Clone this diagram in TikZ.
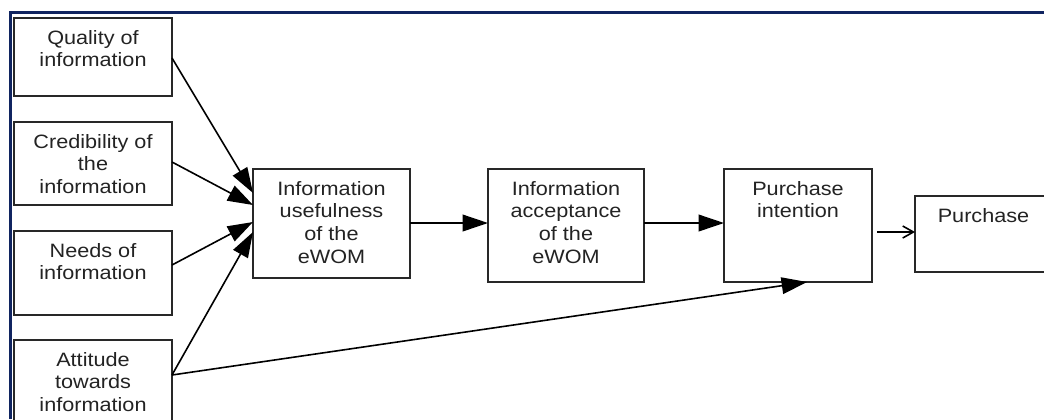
\documentclass[tikz,border=0pt]{standalone}
\usepackage{fontspec}
\setmainfont{Liberation Sans}[FakeStretch=1.12]
\usetikzlibrary{arrows.meta,calc}
\definecolor{framecol}{RGB}{16,36,96}
\definecolor{linecol}{RGB}{40,40,40}
\definecolor{textcol}{RGB}{35,35,35}
\newlength\pxu
\setlength\pxu{0.75pt}
\newcommand{\bxt}[3]{\parbox[c][#2\pxu][t]{#1\pxu}{\centering\fontsize{14.5pt}{16.9pt}\selectfont\color{textcol}\rule{0pt}{19.8pt}#3}}
\tikzset{
  box/.style={draw=linecol, line width=1.2pt, inner sep=0pt, outer sep=0pt, anchor=north west, fill=white},
  arr/.style={draw=black, line width=1.2pt, -{Triangle[length=19pt,width=12.5pt]}},
  openarr/.style={draw=black, line width=1.2pt, -{Straight Barb[length=8pt,width=9pt]}}
}
\begin{document}
\begin{tikzpicture}[x=0.75pt,y=-0.75pt]
\useasboundingbox (0,0) rectangle (1044,419);
\clip (0,0) rectangle (1044,419);
\fill[white] (0,0) rectangle (1044,419);
% frame
\draw[framecol, line width=2.2pt] (10.5,419) -- (10.5,12.8) -- (1044,12.8);
% boxes
\node[box] (Q) at (14,18) {\bxt{158}{78}{Quality of\\information}};
\node[box] (C) at (14,122) {\bxt{158}{83}{Credibility of\\the\\information}};
\node[box] (N) at (14,231) {\bxt{158}{84}{Needs of\\information}};
\node[box] (A) at (14,340) {\bxt{158}{92}{Attitude\\towards\\information}};
\node[box] (U) at (253,169) {\bxt{157}{109}{Information\\usefulness\\of the\\eWOM}};
\node[box] (K) at (488,169) {\bxt{156}{113}{Information\\acceptance\\of the\\eWOM}};
\node[box] (I) at (724,169) {\bxt{148}{113}{Purchase\\intention}};
\node[box] (P) at (915,196) {\bxt{137}{76}{Purchase}};
% connectors
\draw[arr] ($(Q.north east)+(0,40)$) -- ($(U.north west)+(0,24)$);
\draw[arr] ($(C.north east)+(0,40)$) -- ($(U.north west)+(0,36)$);
\draw[arr] ($(N.north east)+(0,34)$) -- ($(U.north west)+(0,53)$);
\draw[arr] ($(A.north east)+(0,35)$) -- ($(U.north west)+(0,63)$);
\draw[arr] ($(A.north east)+(0,35)$) -- ($(I.south west)+(83,0)$);
\draw[arr] ($(U.north east)+(0,54)$) -- ($(K.north west)+(0,54)$);
\draw[arr] ($(K.north east)+(0,54)$) -- ($(I.north west)+(0,54)$);
\draw[openarr] ($(I.north east)+(5,63)$) -- ($(P.north west)+(0,36)$);
\end{tikzpicture}
\end{document}
